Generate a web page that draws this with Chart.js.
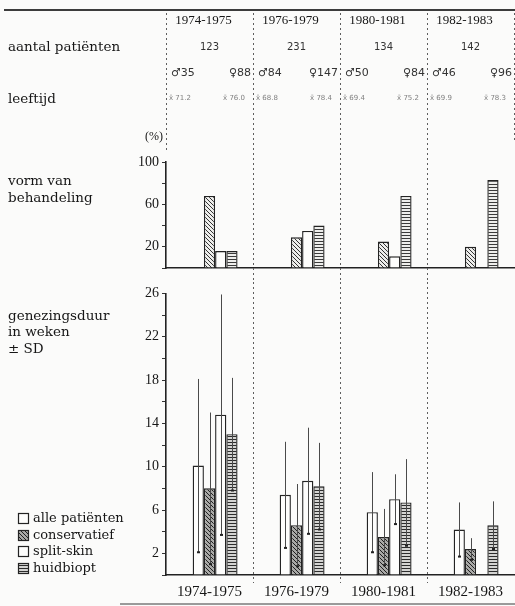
<!DOCTYPE html>
<html><head><meta charset="utf-8">
<script src="https://cdn.jsdelivr.net/npm/chart.js@4.4.0/dist/chart.umd.min.js"></script>
<style>
html,body{margin:0;padding:0;background:#fbfbfa;overflow:hidden;}
#wrap{position:relative;width:515px;height:606px;}
#c1{position:absolute;left:0;top:0;}
#c2{position:absolute;left:0;top:282px;}
</style></head><body>
<div id="wrap">
<canvas id="c1" width="515" height="282"></canvas>
<canvas id="c2" width="515" height="324"></canvas>
</div>
<script>
// ---------- data ----------
const periods = ['1974-1975', '1976-1979', '1980-1981', '1982-1983'];
const patientTotals = [123, 231, 134, 142];
const maleCounts = [35, 84, 50, 46];
const femaleCounts = [88, 147, 84, 96];
const maleAges = ['71.2', '68.8', '69.4', '69.9'];
const femaleAges = ['76.0', '78.4', '75.2', '78.3'];

// vorm van behandeling (%)
const pctTicks = [100, 60, 20];
const pctConservatief = [68, 29, 25, 20];
const pctSplitSkin = [16, 35, 11, null];
const pctHuidbiopt = [16, 40, 68, 83];

// genezingsduur in weken (gemiddelde ± SD)
const weekTicks = [26, 22, 18, 14, 10, 6, 2];
const meanAlle = [10.1, 7.4, 5.8, 4.2];
const sdAlle = [8.0, 4.9, 3.7, 2.5];
const meanConservatief = [8.0, 4.6, 3.5, 2.4];
const sdConservatief = [7.0, 3.8, 2.6, 1.0];
const meanSplitSkin = [14.8, 8.7, 7.0, null];
const sdSplitSkin = [11.1, 4.9, 2.3, null];
const meanHuidbiopt = [13.0, 8.2, 6.7, 4.6];
const sdHuidbiopt = [5.2, 4.0, 4.0, 2.2];

const seriesNames = ['alle patiënten', 'conservatief', 'split-skin', 'huidbiopt'];

// ---------- styling ----------
const SERIF = '"Liberation Serif", "Times New Roman", serif';
const WSERIF = '"DejaVu Serif", "Liberation Serif", serif';
const SANS = '"DejaVu Sans", "Liberation Sans", sans-serif';
const INK = '#161616';
const EDGE = '#232323';

function makePattern(kind, bg, fg) {
  const t = document.createElement('canvas');
  const s = kind === 'diag' ? 4 : 3;
  t.width = s; t.height = s;
  const g = t.getContext('2d');
  g.fillStyle = bg; g.fillRect(0, 0, s, s);
  g.strokeStyle = fg; g.lineWidth = 1;
  if (kind === 'diag') {
    g.beginPath();
    g.moveTo(-1, -1); g.lineTo(s + 1, s + 1);
    g.moveTo(-1, s - 1); g.lineTo(1, s + 1);
    g.moveTo(s - 1, -1); g.lineTo(s + 1, 1);
    g.stroke();
  } else {
    g.fillStyle = fg; g.fillRect(0, 1, s, 1);
  }
  return g.createPattern(t, 'repeat');
}
const fillsTop = ['#fdfdfc', makePattern('diag', '#eeeeec', '#333'), '#fdfdfc', makePattern('horiz', '#eeeeec', '#3a3a3a')];
const fillsLow = ['#fdfdfc', makePattern('diag', '#a9a9a7', '#202020'), '#fdfdfc', makePattern('horiz', '#d4d4d2', '#2c2c2c')];

function barDs(label, data, fill, sd) {
  return {
    label, data, sd,
    backgroundColor: fill,
    borderColor: EDGE,
    borderWidth: 1.4,
    borderSkipped: 'bottom',
    categoryPercentage: 0.645,
    barPercentage: 1.0
  };
}
function spacerDs() {
  return { label: '', data: [null, null, null, null], categoryPercentage: 0.645, barPercentage: 1.0 };
}

function drawDividers(ctx, a, yFrom, yTo, withEdges, edgeTo) {
  const w = (a.right - a.left) / periods.length;
  ctx.save();
  ctx.setLineDash([2, 3]);
  ctx.strokeStyle = '#5e5e5e';
  ctx.lineWidth = 1;
  for (let k = 0; k <= periods.length; k++) {
    const isEdge = (k === 0 || k === periods.length);
    if (isEdge && !withEdges) continue;
    const x = Math.round(a.left + k * w) + 0.5;
    ctx.beginPath();
    ctx.moveTo(x, yFrom);
    ctx.lineTo(x, isEdge ? edgeTo[k === 0 ? 0 : 1] : yTo);
    ctx.stroke();
  }
  ctx.restore();
}

// ---------- top chart ----------
const headerPlugin = {
  id: 'header',
  afterDraw(chart) {
    const ctx = chart.ctx, xs = chart.scales.x, a = chart.chartArea;
    const w = (a.right - a.left) / periods.length;
    ctx.save();
    ctx.strokeStyle = '#3c3c3c'; ctx.lineWidth = 2;
    ctx.beginPath(); ctx.moveTo(4, 10); ctx.lineTo(515, 10); ctx.stroke();
    ctx.restore();
    drawDividers(ctx, a, 13, chart.height, true, [150, 140]);

    ctx.save();
    ctx.fillStyle = INK;
    ctx.textBaseline = 'middle';
    ctx.font = '13px ' + SERIF;
    ctx.textAlign = 'center';
    periods.forEach((p, i) => ctx.fillText(p, xs.getPixelForValue(i) - 6, 21));

    ctx.textAlign = 'left';
    ctx.font = '13.5px ' + WSERIF;
    ctx.fillText('aantal patiënten', 8, 47);
    ctx.fillText('leeftijd', 8, 99);
    ctx.fillText('vorm van', 8, 181);
    ctx.fillText('behandeling', 8, 198);

    ctx.font = '12px ' + SERIF;
    ctx.textAlign = 'right';
    ctx.fillText('(%)', 163, 137);

    ctx.font = '10px ' + SANS;
    ctx.fillStyle = '#333';
    ctx.textAlign = 'center';
    patientTotals.forEach((n, i) => ctx.fillText(String(n), xs.getPixelForValue(i), 47));

    ctx.font = '11px ' + SANS;
    maleCounts.forEach((n, i) => {
      const L = a.left + i * w;
      ctx.textAlign = 'left';
      ctx.fillText('\u2642' + n, L + 5, 73);
      ctx.textAlign = 'right';
      ctx.fillText('\u2640' + femaleCounts[i], L + w - 2, 73);
    });

    ctx.font = '7px ' + SANS;
    ctx.fillStyle = '#808080';
    maleAges.forEach((v, i) => {
      const L = a.left + i * w;
      ctx.textAlign = 'left';
      ctx.fillText('x\u0304 ' + v, L + 3, 98);
      ctx.textAlign = 'right';
      ctx.fillText('x\u0304 ' + femaleAges[i], L + w - 8, 98);
    });
    ctx.restore();
  }
};

new Chart(document.getElementById('c1'), {
  type: 'bar',
  data: {
    labels: periods,
    datasets: [
      spacerDs(),
      barDs(seriesNames[0], [null, null, null, null], fillsTop[0]),
      barDs(seriesNames[1], pctConservatief, fillsTop[1]),
      barDs(seriesNames[2], pctSplitSkin, fillsTop[2]),
      barDs(seriesNames[3], pctHuidbiopt, fillsTop[3])
    ]
  },
  options: {
    responsive: false,
    animation: false,
    devicePixelRatio: 1,
    layout: { padding: { left: 0, right: 1, top: 162, bottom: 14 } },
    plugins: { legend: { display: false }, tooltip: { enabled: false } },
    scales: {
      x: {
        offset: true,
        grid: { display: false, drawTicks: false },
        ticks: { display: false },
        border: { display: true, color: '#222', width: 1.6 }
      },
      y: {
        min: 0, max: 100,
        afterFit(s) { s.width = 166; },
        ticks: {
          stepSize: 20, padding: 3, color: INK,
          font: { family: SERIF, size: 14 },
          callback: v => pctTicks.includes(v) ? String(v) : ''
        },
        grid: { drawOnChartArea: false, drawTicks: true, tickLength: 4, color: '#333' },
        border: { display: true, color: '#222', width: 1.6 }
      }
    }
  },
  plugins: [headerPlugin]
});

// ---------- bottom chart ----------
const lowerPlugin = {
  id: 'lower',
  afterDatasetsDraw(chart) {
    const ctx = chart.ctx, ys = chart.scales.y;
    chart.data.datasets.forEach((ds, di) => {
      if (!ds.sd) return;
      const meta = chart.getDatasetMeta(di);
      ds.data.forEach((v, i) => {
        if (v == null || ds.sd[i] == null) return;
        const x = Math.round(meta.data[i].x) + 0.5;
        const yt = ys.getPixelForValue(v + ds.sd[i]);
        const yb = ys.getPixelForValue(v - ds.sd[i]);
        ctx.save();
        ctx.strokeStyle = '#4a4a4a'; ctx.lineWidth = 1;
        ctx.beginPath(); ctx.moveTo(x, yt); ctx.lineTo(x, yb); ctx.stroke();
        ctx.fillStyle = '#222';
        ctx.fillRect(x - 1.5, yb - 1, 3, 2);
        ctx.restore();
      });
    });
  },
  afterDraw(chart) {
    const ctx = chart.ctx, a = chart.chartArea;
    drawDividers(ctx, a, 0, 301, false);
    ctx.save();
    ctx.fillStyle = INK;
    ctx.textBaseline = 'middle';
    ctx.textAlign = 'left';
    ctx.font = '13.5px ' + WSERIF;
    ctx.fillText('genezingsduur', 8, 34);
    ctx.fillText('in weken', 8, 50);
    ctx.fillText('\u00b1 SD', 8, 67);

    const rows = [237, 254, 270, 287];
    chart.data.datasets.slice(1).forEach((ds, i) => {
      const y = rows[i];
      ctx.fillStyle = ds.backgroundColor;
      ctx.fillRect(18.5, y - 5.5, 10, 10);
      ctx.strokeStyle = EDGE; ctx.lineWidth = 1.2;
      ctx.strokeRect(18.5, y - 5.5, 10, 10);
      ctx.fillStyle = INK;
      ctx.font = '13px ' + WSERIF;
      ctx.fillText(ds.label, 33, y);
    });

    ctx.strokeStyle = '#9a9a9a'; ctx.lineWidth = 2;
    ctx.beginPath(); ctx.moveTo(120, 322); ctx.lineTo(515, 322); ctx.stroke();
    ctx.restore();
  }
};

new Chart(document.getElementById('c2'), {
  type: 'bar',
  data: {
    labels: periods,
    datasets: [
      spacerDs(),
      barDs(seriesNames[0], meanAlle, fillsLow[0], sdAlle),
      barDs(seriesNames[1], meanConservatief, fillsLow[1], sdConservatief),
      barDs(seriesNames[2], meanSplitSkin, fillsLow[2], sdSplitSkin),
      barDs(seriesNames[3], meanHuidbiopt, fillsLow[3], sdHuidbiopt)
    ]
  },
  options: {
    responsive: false,
    animation: false,
    devicePixelRatio: 1,
    layout: { padding: { left: 0, right: 1, top: 9, bottom: 5 } },
    plugins: { legend: { display: false }, tooltip: { enabled: false } },
    scales: {
      x: {
        offset: true,
        afterFit(s) { s.height = 26; },
        grid: { display: false, drawTicks: false },
        ticks: { padding: 8, color: INK, font: { family: SERIF, size: 15 } },
        border: { display: true, color: '#222', width: 1.6 }
      },
      y: {
        min: 0, max: 26,
        afterFit(s) { s.width = 166; },
        ticks: {
          stepSize: 2, padding: 3, color: INK, autoSkip: false,
          font: { family: SERIF, size: 14 },
          callback: v => weekTicks.includes(v) ? String(v) : ''
        },
        grid: { drawOnChartArea: false, drawTicks: true, tickLength: 4, color: '#333' },
        border: { display: true, color: '#222', width: 1.6 }
      }
    }
  },
  plugins: [lowerPlugin]
});
</script>
</body></html>
